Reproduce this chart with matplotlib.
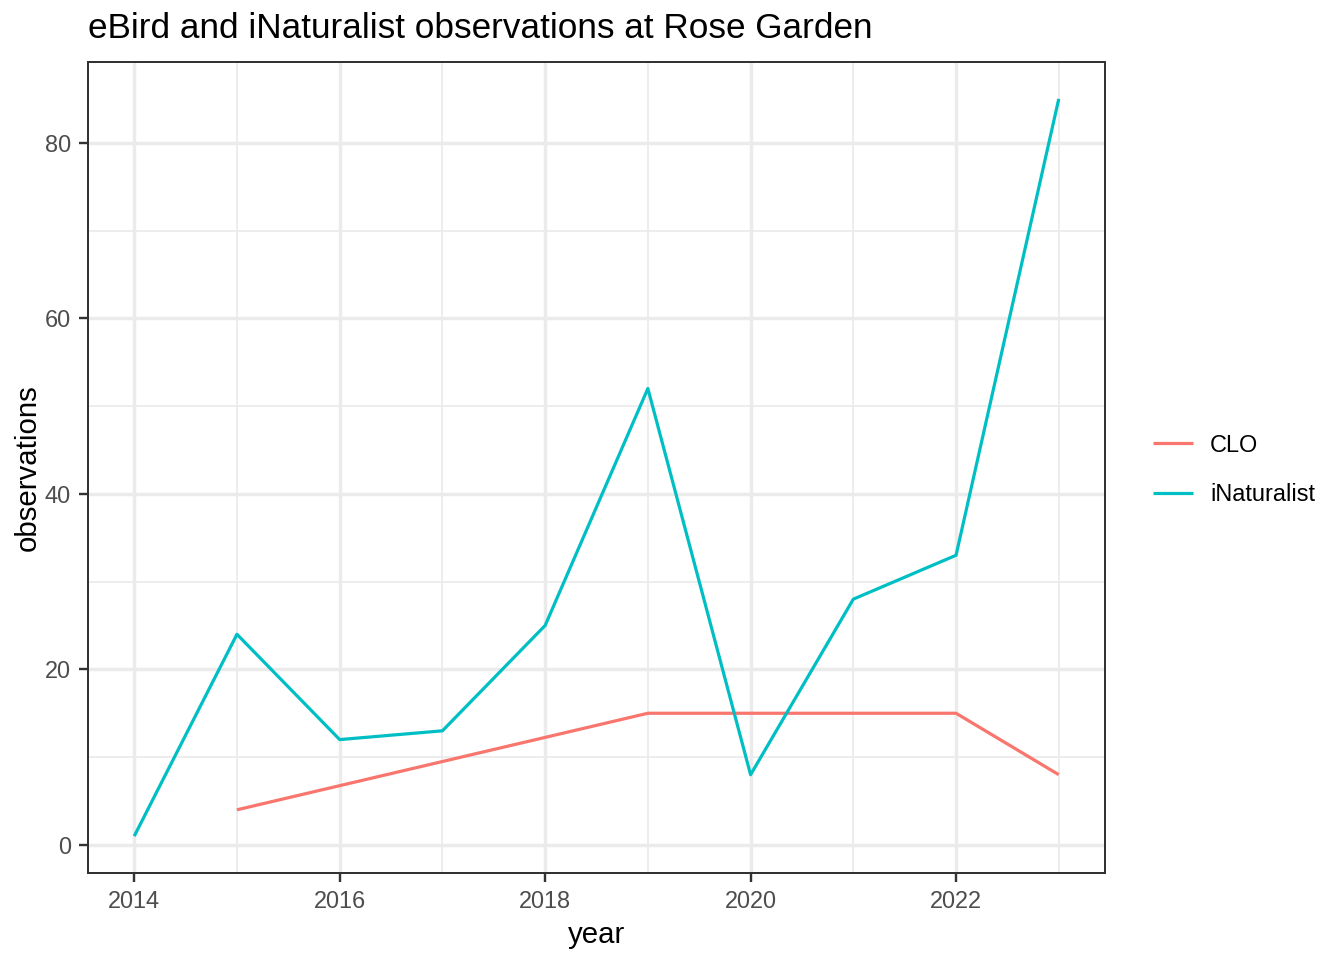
import matplotlib
matplotlib.use('Agg')
import matplotlib.pyplot as plt
from matplotlib.ticker import MultipleLocator

#%% data
clo_years = [2015, 2019, 2020, 2021, 2022, 2023]
clo_obs = [4, 15, 15, 15, 15, 8]
inat_years = [2014, 2015, 2016, 2017, 2018, 2019, 2020, 2021, 2022, 2023]
inat_obs = [1, 24, 12, 13, 25, 52, 8, 28, 33, 85]
series_names = ['CLO', 'iNaturalist']
colours = ['#F8766D', '#00BFC4']

plt.rcParams['font.family'] = ['Liberation Sans', 'DejaVu Sans']

#%% figure with ggplot theme_bw look
fig = plt.figure(figsize=(7, 5), dpi=192)
ax = fig.add_axes([88/1344, 87/960, (1105-88)/1344, (873-62)/960])

lw = 1.2
ax.plot(clo_years, clo_obs, color=colours[0], linewidth=lw, label=series_names[0], solid_capstyle='butt')
ax.plot(inat_years, inat_obs, color=colours[1], linewidth=lw, label=series_names[1], solid_capstyle='butt')

# ggplot default expansion: 5% of the data range on each side
allx = clo_years + inat_years
ally = clo_obs + inat_obs
xr = max(allx) - min(allx)
yr = max(ally) - min(ally)
ax.set_xlim(min(allx) - 0.05*xr, max(allx) + 0.05*xr)
ax.set_ylim(min(ally) - 0.05*yr, max(ally) + 0.05*yr)

ax.xaxis.set_major_locator(MultipleLocator(2))
ax.xaxis.set_minor_locator(MultipleLocator(1))
ax.yaxis.set_major_locator(MultipleLocator(20))
ax.yaxis.set_minor_locator(MultipleLocator(10))

ax.grid(which='major', color='#EBEBEB', linewidth=1.3)
ax.grid(which='minor', color='#EBEBEB', linewidth=0.65)
ax.set_axisbelow(True)
for s in ax.spines.values():
    s.set_color('#333333')
    s.set_linewidth(0.75)

ax.tick_params(which='major', length=3.5, width=0.9, color='#333333',
               labelcolor='#4D4D4D', labelsize=8.8, pad=3)
ax.tick_params(which='minor', length=0)

ax.set_xlabel('year', fontsize=11, labelpad=3)
ax.set_ylabel('observations', fontsize=11, labelpad=1)
fig.text(88/1344, 1 - 28/960, 'eBird and iNaturalist observations at Rose Garden',
         fontsize=13.2, ha='left', va='center')

leg = ax.legend(loc='center left', bbox_to_anchor=(1132/1344, 1 - 470/960),
                bbox_transform=fig.transFigure, frameon=False, fontsize=8.8,
                handlelength=1.7, labelspacing=1.15, handletextpad=0.72)

fig.savefig('out.png', dpi=192)
